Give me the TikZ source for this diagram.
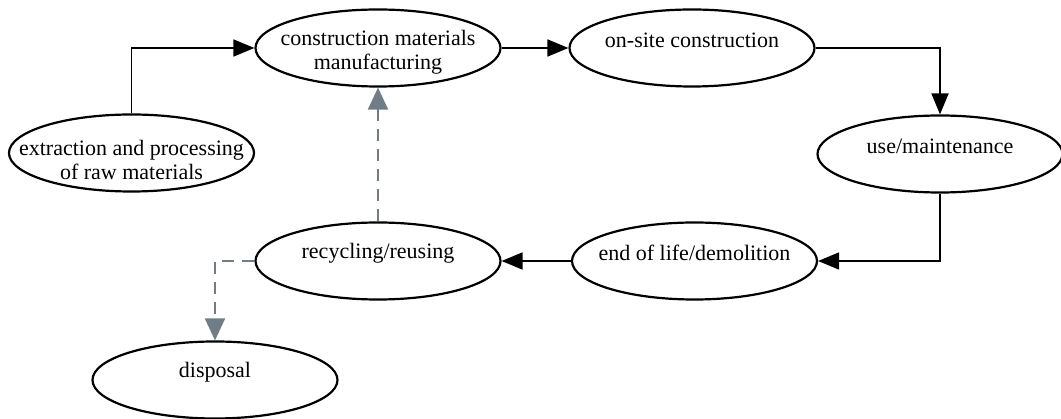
\documentclass[tikz,border=0pt]{standalone}
\usepackage{fontspec}
\setmainfont{Liberation Serif}
\usetikzlibrary{shapes.geometric,arrows.meta}
\definecolor{dgray}{RGB}{112,125,135}
\begin{document}
\begin{tikzpicture}[x=1pt,y=-1pt,
  ell/.style={draw, ellipse, line width=2.2pt, minimum width=245pt, minimum height=77pt, inner sep=0pt},
  txt/.style={align=center, font=\fontsize{22}{24}\selectfont, inner sep=0pt},
  solidarrow/.style={line width=1.8pt, -{Triangle[length=21pt,width=17pt]}},
  dasharrow/.style={line width=2pt, dgray, dash pattern=on 12pt off 8pt, -{Triangle[length=22pt,width=20pt]}}]
\useasboundingbox (0,0) rectangle (1061,419);

\node[ell, label={[txt,name=ext-t,yshift=-7pt]center:{extraction and processing\\of raw materials}}] (ext) at (131.5,153) {};
\node[ell, label={[txt,name=mfg-t,yshift=-4pt]center:{construction materials\\manufacturing}}] (mfg) at (378,48) {};
\node[ell, label={[txt,name=ons-t,yshift=8pt]center:{on-site construction}}] (ons) at (692,48) {};
\node[ell, label={[txt,name=use-t,yshift=8pt]center:{use/maintenance}}] (use) at (940,154) {};
\node[ell, label={[txt,name=end-t,yshift=8pt]center:{end of life/demolition}}] (end) at (694.5,261) {};
\node[ell, label={[txt,name=rec-t,yshift=8pt]center:{recycling/reusing}}] (rec) at (378,261) {};
\node[ell, label={[txt,name=dis-t,yshift=8pt]center:{disposal}}] (dis) at (215,380) {};

\draw[solidarrow] (ext.north) |- (mfg.west);
\draw[solidarrow] (mfg.east) -- (ons.west);
\draw[solidarrow] (ons.east) -| (use.north);
\draw[solidarrow] (use.south) |- (end.east);
\draw[solidarrow] (end.west) -- (rec.east);
\draw[dasharrow] (rec.north) -- (mfg.south);
\draw[dasharrow] (rec.west) -| (dis.north);
\end{tikzpicture}
\end{document}
